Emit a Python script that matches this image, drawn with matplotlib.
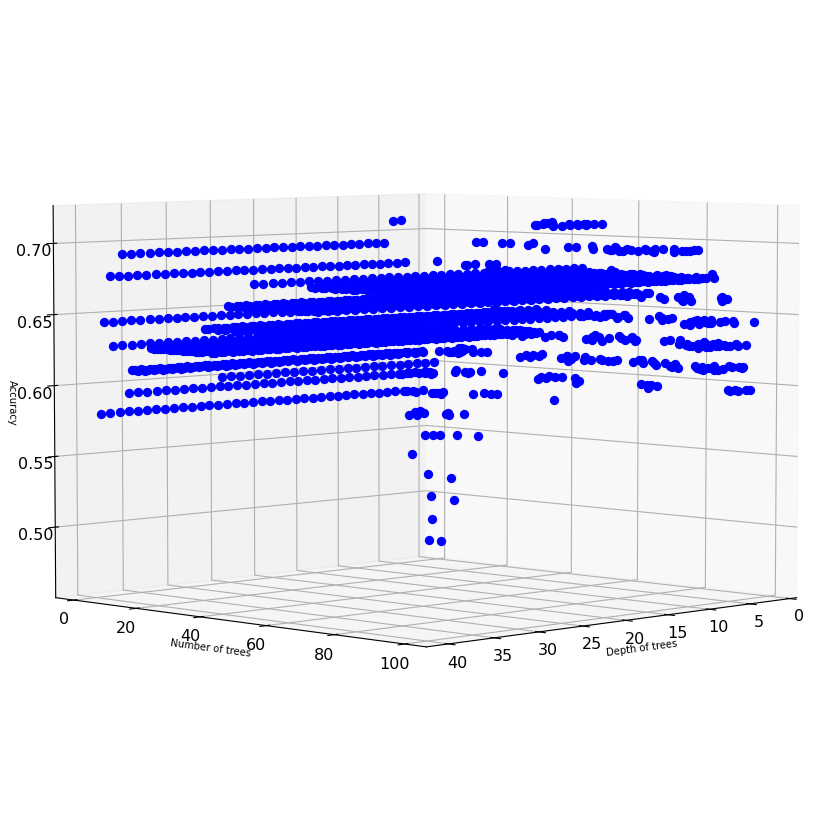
import matplotlib
matplotlib.use("Agg")
import matplotlib.pyplot as plt

test_set_size = 62
depths = list(range(2, 41))
tree_counts = [2, 3, 5, 6, 9, 11, 12, 13, 14, 16, 19, 18, 20, 22, 24, 26, 28, 35, 40, 42, 38, 41, 44, 48, 53, 56, 60, 63, 64, 67, 70, 73, 77, 80, 84, 88, 91, 94, 96, 98, 100,
               48, 51, 54, 58, 61, 65, 68, 71, 74, 76, 79, 83, 86, 90, 93, 95, 97, 99,
               21, 23, 25, 27, 29, 30, 31, 32, 33, 34, 36, 37, 39, 43, 45, 46, 47, 49, 50, 52, 55, 57, 59, 62, 66, 69]
P36 = [36,36,36,36,36]
P37 = [37,37,37,37,37]
P38 = [38,38,38,38,38]
P39 = [39,39,39,39,39]
P40 = [40,40,40,40,40]
P41 = [41,41,41,41,41]
P42 = [42,42,42,42,42]
P43 = [43,43,43,43,43]
correct = [
 [32,35,33,36,36]+P36*7,
 [31,36,35,36,40]+P40*7,
 [42,29,35,36,42,42]+P42*7,
 [39,30,35,36,39,39]+P39*7,
 [39,29,34,34,35,35]+[44,44,43,43,43]+P43*6,
 [37,35,34,36,37,37]+P37*7,
 [38,32,36,36,37,37]+[37,37,38,38,38]+P38*6,
 [38,31,35,36,37,38]+P38*7,
 [38,34,35,36,37,37]+P38*7,
 [38,35,37,38,38,37]+P38*7,
 [37,36,37,38,38]+P39*7,
 [34,37,38,38,39]+P39*7,
 [36,43,37,38,38]+P39*7,
 [36,43,42,42,38]+P39*7,
 [36,42,38,38,42]+[41,39,39,39,39]+P39*6,
 [37,42,38,39,39]+P39*7,
 [43,43,40,39,39]+P39*7,
 [43,39,39,40,40]+P40*7,
 [37,37,38,39,40]+P41+[41,41,41,41,38]+P38*5,
 [37,44,38,39,40]+P41*7,
 [38,39,38,40,41]+P39*7,
 [44,44,39,43,38]+[39,40,41,41,41]+P40*6,
 [37,36,37,37,38]+[39,40,42,42,42]+P40*6,
 [37,38,39,40,41]+P41*7,
 [43,44,43,43,42]+P41*7,
 [44,44,44,44,44]+[44,44,43,41,41]+P41*6,
 [43,40,39,38,40]+[42,41,41,41,41]+P41*6,
 [40,38,39,41,43]+P41*7,
 [41,39,38,40,41]+P42*6+P41,
 [38,39,41,42,43]+P42*7,
 [41,37,38,39,40]+P42*7,
 [40,37,38,39,41]+[43,42,42,42,42]+P42*6,
 [43,38,37,40,41]+P42*7,
 [41,38,40,41,43]+P42*7,
 [43,43,43,43,42]+P42*7,
 [42,40,38,39,39]+P42*7,
 [41,38,39,39,40]+[41,42,42,42,42]+P42*6,
 [40,40,39,38,38]+[39,40,42,42,42]+P42*6,
 [38,38,39,39,40]+[40,41,41,42,42]+P42*6,
 [37,37,37,38,38]+[39,39,40,42,42]+P42*6,
 [40,39,39,39,41]+P42*7,
 [38,38,39,39,44]+[44,40,41,41,41]+P41*6,
 [38,44,44,38,44]+[39,44,40,40,40]+P40*6,
 [39,44,37,38,39]+[40,40,41,41,41]+P41*6,
 [40,38,39,38,37]+[38,41,41,41,41]+P41*6,
 [39,42,38,40,39]+[41,41,41,41,41]+P41*6,
 [39,40,43,38,40]+[39,42,42,42,42]+P42*5+P41,
 [38,41,43,40,43]+[39,42,42,42,42]+P42*6,
 [38,43,39,40,41]+[43,42,42,42,42]+P42*6,
 [43,43,37,41,43]+[43,42,42,42,42]+P42*6,
 [39,40,38,43,43]+P42*7,
 [39,40,39,38,37]+P42*7,
 [43,43,41,38,40]+[43,42,42,42,42]+P42*6,
 [39,40,41,39,38]+[41,42,42,42,42]+P42*6,
 [39,40,38,40,39]+[38,42,42,42,42]+P42*6,
 [38,41,39,40,38]+[39,42,42,42,42]+P42*6,
 [39,37,40,38,39]+P42*7,
 [38,37,41,39,40]+[38,42,42,42,42]+P42*6,
 [37,38,40,39,38]+[39,42,42,42,42]+P42*6,
 P39*8, P39*8, P39*8, P39*8, P39*8, P39*8, P39*8, P39*8, P39*8, P39*8,
 P40*8, P39*8, P40*8, P41*8, P41*8, P40*8, P41*8, P41*8, P42*8, P40*8,
 P41*8, P41*8, P40*8, P41*8, P41*8, P41*8,
]
depth_ticks = [0, 5, 10, 15, 20, 25, 30, 35, 40]
tree_ticks = [0, 20, 40, 60, 80, 100]
acc_ticks = [0.50, 0.55, 0.60, 0.65, 0.70]

fig = plt.figure(figsize=(8.30, 8.29), dpi=100)
ax = fig.add_axes([0, 0, 1, 1], projection="3d")
xs, ys, zs = [], [], []
for t, row in zip(tree_counts, correct):
    for d, k in zip(depths, row):
        xs.append(d); ys.append(t); zs.append(k / test_set_size)
ax.scatter(xs, ys, zs, c="b", s=45, depthshade=False, linewidths=0, alpha=1)
ax.set_xlim(-0.9, 42.4)
ax.set_ylim(-6, 106)
ax.set_zlim(0.45, 0.7265)
ax.set_xticks(depth_ticks)
ax.set_yticks(tree_ticks)
ax.set_zticks(acc_ticks)
ax.set_zticklabels(["0.50", "0.55", "0.60", "0.65", "0.70"])
ax.tick_params(labelsize=11.5)
ax.tick_params(axis="x", pad=-1)
ax.tick_params(axis="y", pad=0)
ax.tick_params(axis="z", pad=0)
ax.set_xlabel("Depth of trees", fontsize=7.2, labelpad=-3.5)
ax.set_ylabel("Number of trees", fontsize=7.2, labelpad=-3.5)
ax.set_zlabel("Accuracy", fontsize=7.2, labelpad=-3.3)
ax.view_init(elev=4.5, azim=45)
ax.set_box_aspect((1, 1, 0.748), zoom=0.985)
fig.savefig("out.png", dpi=100)
